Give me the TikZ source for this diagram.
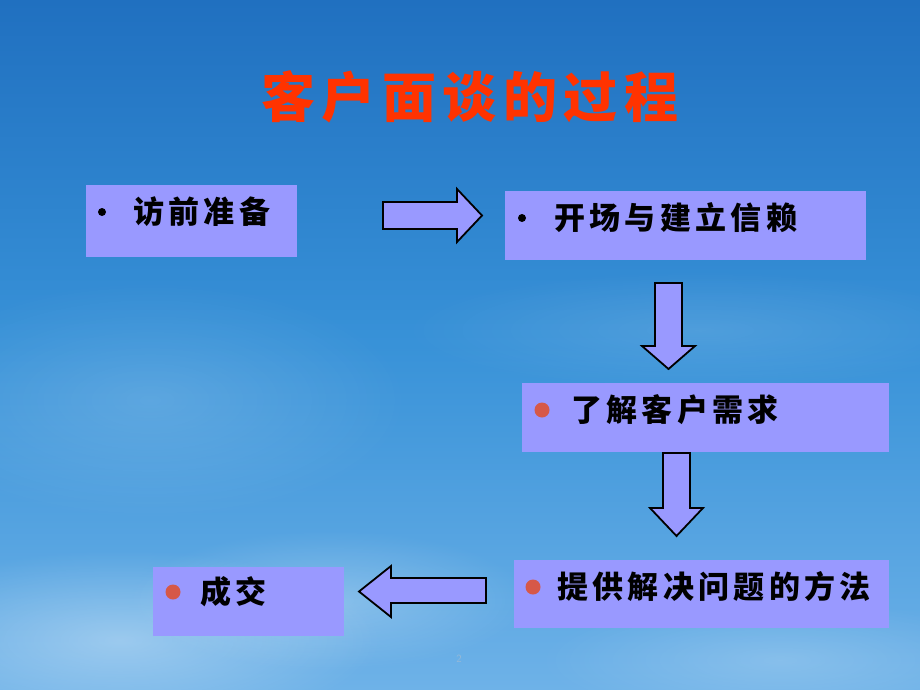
\documentclass[tikz,border=0pt]{standalone}
\usepackage{fontspec}
\newfontfamily\cjk{Noto Sans CJK SC}[LetterSpace=14]
\newfontfamily\cjktitle{Noto Sans CJK SC}[LetterSpace=12]
\usetikzlibrary{fadings}
\tikzfading[name=softblob, inner color=transparent!0, outer color=transparent!100]
\definecolor{skytop}{RGB}{32,112,192}
\definecolor{skymid}{RGB}{56,146,216}
\definecolor{skybot}{RGB}{110,178,232}
\definecolor{lav}{RGB}{153,153,255}
\definecolor{titlered}{RGB}{255,51,0}
\definecolor{dotred}{RGB}{214,88,72}
\definecolor{pagenum}{RGB}{150,185,215}
\tikzset{
  box/.style={fill=lav, draw=none, minimum width=#1, inner sep=0pt},
  boxtext/.style={anchor=west, inner sep=0pt, font=\cjk\bfseries\fontsize{31}{36}\selectfont, text=black},
  blockarrow/.style={fill=lav, draw=black, line width=1.8pt, line join=miter},
  reddot/.style={circle, fill=dotred, minimum size=15pt, inner sep=0pt},
  blackdot/.style={circle, fill=black, minimum size=8pt, inner sep=0pt},
  cloud/.style={white, path fading=softblob}
}
\begin{document}
\begin{tikzpicture}[x=1pt,y=-1pt]
\useasboundingbox (0,0) rectangle (920,690);
% background sky
\shade[top color=skytop, bottom color=skybot, middle color=skymid] (0,0) rectangle (920,690);
\fill[cloud, opacity=0.35] (120,640) ellipse (260 and 90);
\fill[cloud, opacity=0.25] (330,600) ellipse (200 and 70);
\fill[cloud, opacity=0.20] (780,660) ellipse (240 and 60);
\fill[cloud, opacity=0.15] (150,400) ellipse (260 and 120);
\fill[cloud, opacity=0.12] (700,330) ellipse (300 and 60);
% title
\node (title) at (470,97) {\cjktitle\bfseries\fontsize{54}{60}\selectfont\color{titlered}客户面谈的过程};
% boxes
\node[box=211pt, minimum height=72pt] (b1) at (191.5,221) {};
\node[box=361pt, minimum height=69pt] (b2) at (685.5,225.5) {};
\node[box=367pt, minimum height=69pt] (b3) at (705.5,417.5) {};
\node[box=375pt, minimum height=68pt] (b4) at (701.5,594) {};
\node[box=191pt, minimum height=69pt] (b5) at (248.5,601.5) {};
% bullets and texts
\node[blackdot] (d1) at (102,212) {};
\node[boxtext] (t1) at (133,212) {访前准备};
\node[blackdot] (d2) at (522,218) {};
\node[boxtext] (t2) at (554,218) {开场与建立信赖};
\node[reddot] (d3) at (542,410) {};
\node[boxtext] (t3) at (571,410) {了解客户需求};
\node[reddot] (d4) at (533,587) {};
\node[boxtext] (t4) at (557,587) {提供解决问题的方法};
\node[reddot] (d5) at (173,592) {};
\node[boxtext] (t5) at (200,592) {成交};
% block arrows
\draw[blockarrow] (383,202) -- (457,202) -- (457,189) -- (482,215.5) -- (457,242) -- (457,229) -- (383,229) -- cycle;
\draw[blockarrow] (655,283) -- (682,283) -- (682,346) -- (695,346) -- (668.5,369) -- (642,346) -- (655,346) -- cycle;
\draw[blockarrow] (663,453) -- (690,453) -- (690,508) -- (703,508) -- (676.5,536) -- (650,508) -- (663,508) -- cycle;
\draw[blockarrow] (486,578) -- (391,578) -- (391,566) -- (359,591.5) -- (391,617) -- (391,603) -- (486,603) -- cycle;
% page number
\node[text=pagenum, font=\sffamily\fontsize{11}{12}\selectfont] (pn) at (459,659) {2};
\end{tikzpicture}
\end{document}
